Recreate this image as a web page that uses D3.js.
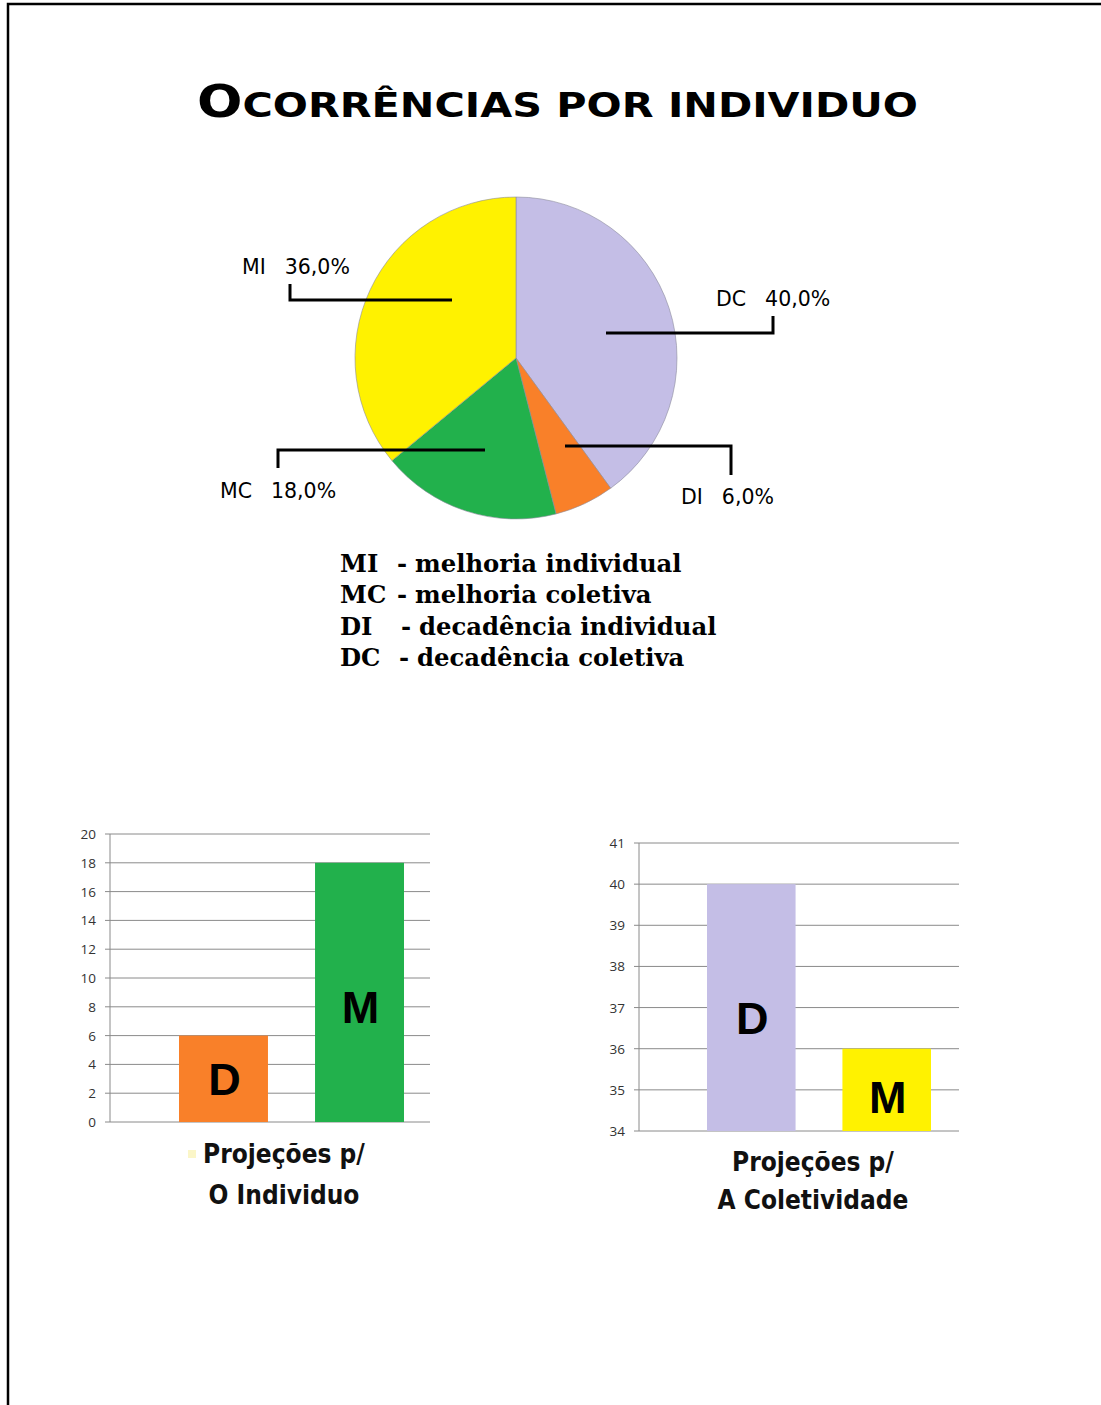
<!DOCTYPE html>
<html>
<head>
<meta charset="utf-8">
<script src="https://cdn.jsdelivr.net/npm/d3@7"></script>
<style>
  body { margin: 0; background: #fff; }
  svg { display: block; }
</style>
</head>
<body>
<div class="dataviz"></div>
<script>
// pie data (percent)
var pieNames = ["DC", "DI", "MC", "MI"];
var pieValues = [40, 6, 18, 36];
var pieColors = ["#c4bee6", "#f98029", "#22b14c", "#fff200"];

// legend
var legendCodes = ["MI", "MC", "DI", "DC"];
var legendTexts = ["melhoria individual", "melhoria coletiva", "decadência individual", "decadência coletiva"];

// bar chart 1 - individuo
var bar1Cats = ["D", "M"];
var bar1Values = [6, 18];
var bar1Colors = ["#f98029", "#22b14c"];
var bar1Ticks = [0, 2, 4, 6, 8, 10, 12, 14, 16, 18, 20];
var bar1Caption = ["Projeções p/", "O Individuo"];

// bar chart 2 - coletividade
var bar2Cats = ["D", "M"];
var bar2Values = [40, 36];
var bar2Colors = ["#c4bee6", "#fff200"];
var bar2Ticks = [34, 35, 36, 37, 38, 39, 40, 41];
var bar2Caption = ["Projeções p/", "A Coletividade"];

var W = 1101, H = 1405;

var svg = d3.select(".dataviz").append("svg")
  .attr("width", W)
  .attr("height", H);

svg.append("rect").attr("width", W).attr("height", H).attr("fill", "#fff");

// page border (top + left only)
svg.append("path")
  .attr("d", "M8," + H + "V4H" + W)
  .attr("fill", "none")
  .attr("stroke", "#000")
  .attr("stroke-width", 2.5);

// title, small caps look
var title = svg.append("text")
  .attr("x", 197)
  .attr("y", 117)
  .attr("textLength", 721)
  .attr("lengthAdjust", "spacingAndGlyphs")
  .attr("font-family", "DejaVu Sans")
  .attr("font-weight", "bold")
  .attr("fill", "#000");
title.append("tspan").attr("font-size", 44).text("O");
title.append("tspan").attr("font-size", 34).text("CORRÊNCIAS POR INDIVIDUO");

// ---- pie ----
var cx = 516, cy = 358, R = 161;
var pie = d3.pie().sort(null).value(function(d) { return d.v; });
var arc = d3.arc().innerRadius(0).outerRadius(R);
var pieData = pieNames.map(function(n, i) { return {name: n, v: pieValues[i], color: pieColors[i]}; });

var pg = svg.append("g").attr("transform", "translate(" + cx + "," + cy + ")");
pg.selectAll("path.slice").data(pie(pieData)).enter()
  .append("path")
  .attr("class", "slice")
  .attr("d", arc)
  .attr("fill", function(d) { return d.data.color; })
  .attr("stroke", "#8c8c9c")
  .attr("stroke-width", 0.6);

// leader lines + label spots, relative to pie center
var leaders = {
  DC: {pts: [[90, -25], [257, -25], [257, -42]], lx: 200, ly: -52},
  DI: {pts: [[49, 88], [215, 88], [215, 117]], lx: 165, ly: 146},
  MC: {pts: [[-31, 92], [-238, 92], [-238, 110]], lx: -296, ly: 140},
  MI: {pts: [[-64, -58], [-226, -58], [-226, -74]], lx: -274, ly: -84}
};

pieData.forEach(function(d) {
  var L = leaders[d.name];
  pg.append("path")
    .attr("d", d3.line()(L.pts))
    .attr("fill", "none")
    .attr("stroke", "#000")
    .attr("stroke-width", 3);
  var t = pg.append("text")
    .attr("x", L.lx)
    .attr("y", L.ly)
    .attr("font-family", "DejaVu Sans")
    .attr("font-size", 20.5)
    .attr("fill", "#000");
  t.append("tspan").text(d.name);
  t.append("tspan").attr("dx", 19).text(d.v.toFixed(1).replace(".", ",") + "%");
});

// ---- legend ----
var lg = svg.append("g")
  .attr("font-family", "DejaVu Serif")
  .attr("font-weight", "bold")
  .attr("font-size", 24.3)
  .attr("fill", "#000");
var dashX = [397, 397, 401, 399];
legendCodes.forEach(function(c, i) {
  var y = 572 + i * 31.3;
  lg.append("text").attr("x", 340).attr("y", y).text(c);
  lg.append("text").attr("x", dashX[i]).attr("y", y).text("-");
  lg.append("text").attr("x", dashX[i] + 18).attr("y", y).text(legendTexts[i]);
});

// ---- bar charts ----
function barChart(opt) {
  var g = svg.append("g");
  var y = d3.scaleLinear().domain(opt.domain).range([opt.y0, opt.y1]);
  var x = d3.scaleBand().domain(opt.cats).range(opt.band).paddingInner(0.346).paddingOuter(0);

  // gridlines
  g.selectAll("line.grid").data(opt.ticks).enter()
    .append("line")
    .attr("x1", opt.axisX - 5)
    .attr("x2", opt.gridEnd)
    .attr("y1", function(d) { return y(d); })
    .attr("y2", function(d) { return y(d); })
    .attr("stroke", "#8a8a8a")
    .attr("stroke-width", 1);

  // y axis line
  g.append("line")
    .attr("x1", opt.axisX).attr("x2", opt.axisX)
    .attr("y1", y(opt.domain[1])).attr("y2", y(opt.domain[0]))
    .attr("stroke", "#8a8a8a");

  g.selectAll("text.tick").data(opt.ticks).enter()
    .append("text")
    .attr("x", opt.axisX - 14)
    .attr("y", function(d) { return y(d) + 5; })
    .attr("text-anchor", "end")
    .attr("font-family", "Open Sans, Liberation Sans")
    .attr("font-size", 13.5)
    .attr("fill", "#333")
    .text(function(d) { return d; });

  g.selectAll("rect.bar").data(opt.values).enter()
    .append("rect")
    .attr("x", function(d, i) { return x(opt.cats[i]); })
    .attr("y", function(d) { return y(d); })
    .attr("width", x.bandwidth())
    .attr("height", function(d) { return y(opt.domain[0]) - y(d); })
    .attr("fill", function(d, i) { return opt.colors[i]; });

  g.selectAll("text.barlab").data(opt.values).enter()
    .append("text")
    .attr("x", function(d, i) { return x(opt.cats[i]) + x.bandwidth() / 2 + 1; })
    .attr("y", function(d, i) { return opt.labY[i]; })
    .attr("text-anchor", "middle")
    .attr("font-family", "Liberation Sans, Arial")
    .attr("font-weight", "bold")
    .attr("font-size", 45)
    .attr("fill", "#000")
    .text(function(d, i) { return opt.cats[i]; });

  opt.caption.forEach(function(c, i) {
    g.append("text")
      .attr("x", opt.capX)
      .attr("y", opt.capY[i])
      .attr("text-anchor", "middle")
      .attr("font-family", "DejaVu Sans Condensed, DejaVu Sans")
      .attr("font-stretch", "condensed")
      .attr("font-weight", "bold")
      .attr("font-size", 26)
      .attr("fill", "#111")
      .text(c);
  });
}

barChart({
  cats: bar1Cats, values: bar1Values, colors: bar1Colors, ticks: bar1Ticks,
  domain: [0, 20], y0: 1122, y1: 834, axisX: 110, gridEnd: 430, band: [179, 404],
  labY: [1095, 1023], caption: bar1Caption, capX: 284, capY: [1163, 1204]
});

barChart({
  cats: bar2Cats, values: bar2Values, colors: bar2Colors, ticks: bar2Ticks,
  domain: [34, 41], y0: 1131, y1: 843, axisX: 639, gridEnd: 959, band: [707, 931],
  labY: [1034, 1113], caption: bar2Caption, capX: 813, capY: [1171, 1209]
});

// faint mark beside first caption
svg.append("rect").attr("x", 188).attr("y", 1150).attr("width", 8).attr("height", 8)
  .attr("fill", "#fbf6c8");
</script>
</body>
</html>
